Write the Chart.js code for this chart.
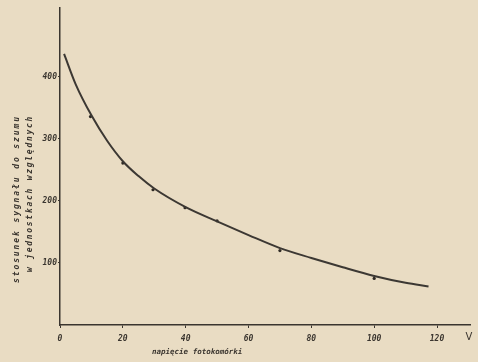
<!DOCTYPE html>
<html>
<head>
<meta charset="utf-8">
<script src="https://cdn.jsdelivr.net/npm/chart.js@4/dist/chart.umd.min.js"></script>
<style>
  html, body { margin: 0; padding: 0; background: #e9dcc3; }
  #wrap { width: 478px; height: 362px; position: relative; }
</style>
</head>
<body>
<div id="wrap"><canvas id="snrChart"></canvas></div>
<script>
// fitted curve
const curveX = [1.3, 5, 10, 15, 20, 25, 30, 40, 50, 60, 70, 80, 90, 100, 110, 117.3];
const curveY = [437, 388, 338, 297, 264, 240, 220, 190, 167, 145, 124, 108, 93, 79, 68, 62];

// measured points
const pointX = [9.7, 20, 29.6, 39.8, 50, 70, 100];
const pointY = [336, 261, 218, 189, 168, 120, 75];

const xTicks = [0, 20, 40, 60, 80, 100, 120];
const yTicks = [100, 200, 300, 400];

const yTitle = ['stosunek sygnału do szumu', 'w jednostkach względnych'];
const xTitle = 'napięcie fotokomórki';
const xUnit = 'V';

const ink = '#3a352f';
const monoFont = '"DejaVu Sans Mono", "Liberation Mono", monospace';

// axis titles placed by hand, like the typed labels on the original
const titlesPlugin = {
  id: 'titles',
  afterDraw(chart) {
    const ctx = chart.ctx;
    ctx.save();
    ctx.fillStyle = ink;
    ctx.textBaseline = 'middle';

    // rotated y title, two lines, stretched to the typed width
    const yLines = [
      { text: yTitle[0], x: 17, y0: 283, len: 168 },
      { text: yTitle[1], x: 30, y0: 272, len: 157 }
    ];
    ctx.font = 'italic bold 8px ' + monoFont;
    yLines.forEach(l => {
      ctx.save();
      ctx.letterSpacing = '0px';
      const w = ctx.measureText(l.text).width;
      ctx.letterSpacing = ((l.len - w) / l.text.length).toFixed(2) + 'px';
      ctx.translate(l.x, l.y0);
      ctx.rotate(-Math.PI / 2);
      ctx.textAlign = 'left';
      ctx.fillText(l.text, 0, 0);
      ctx.restore();
    });

    // x title
    ctx.font = 'italic bold 7.5px ' + monoFont;
    ctx.textAlign = 'left';
    ctx.letterSpacing = '0px';
    ctx.fillText(xTitle, 152, 352);

    // unit at the end of the x axis
    ctx.font = '10px "DejaVu Sans", sans-serif';
    ctx.textAlign = 'center';
    ctx.fillText(xUnit, chart.chartArea.right - 1, 337);
    ctx.restore();
  }
};

const ctx = document.getElementById('snrChart').getContext('2d');
const chartInstance = new Chart(ctx, {
  type: 'scatter',
  data: {
    datasets: [
      {
        type: 'line',
        label: 'curve',
        data: curveX.map((x, i) => ({ x: x, y: curveY[i] })),
        borderColor: '#3c3833',
        borderWidth: 2,
        pointRadius: 0,
        cubicInterpolationMode: 'monotone',
        fill: false
      },
      {
        label: 'points',
        data: pointX.map((x, i) => ({ x: x, y: pointY[i] })),
        backgroundColor: '#2f2a25',
        borderColor: '#2f2a25',
        pointRadius: 1.6,
        pointBorderWidth: 0
      }
    ]
  },
  options: {
    responsive: true,
    maintainAspectRatio: false,
    animation: false,
    layout: { padding: { left: 0, right: 8, top: 8, bottom: 0 } },
    plugins: {
      legend: { display: false },
      tooltip: { enabled: false }
    },
    scales: {
      x: {
        type: 'linear',
        min: 0,
        max: 130.5,
        afterFit: (scale) => { scale.height = 37; },
        afterBuildTicks: (scale) => { scale.ticks = xTicks.map(v => ({ value: v })); },
        grid: { drawOnChartArea: false, tickLength: 3, color: ink },
        border: { color: ink, width: 1.5 },
        ticks: {
          color: ink,
          padding: 6,
          font: { family: monoFont, size: 8, style: 'italic', weight: 'bold' },
          maxRotation: 0
        }
      },
      y: {
        type: 'linear',
        min: 0,
        max: 511,
        afterFit: (scale) => { scale.width = 60; },
        afterBuildTicks: (scale) => { scale.ticks = yTicks.map(v => ({ value: v })); },
        grid: { drawOnChartArea: false, tickLength: 2, color: ink },
        border: { color: ink, width: 1.5 },
        ticks: {
          color: ink,
          padding: 1,
          font: { family: monoFont, size: 8, style: 'italic', weight: 'bold' }
        }
      }
    }
  },
  plugins: [titlesPlugin]
});
</script>
</body>
</html>
